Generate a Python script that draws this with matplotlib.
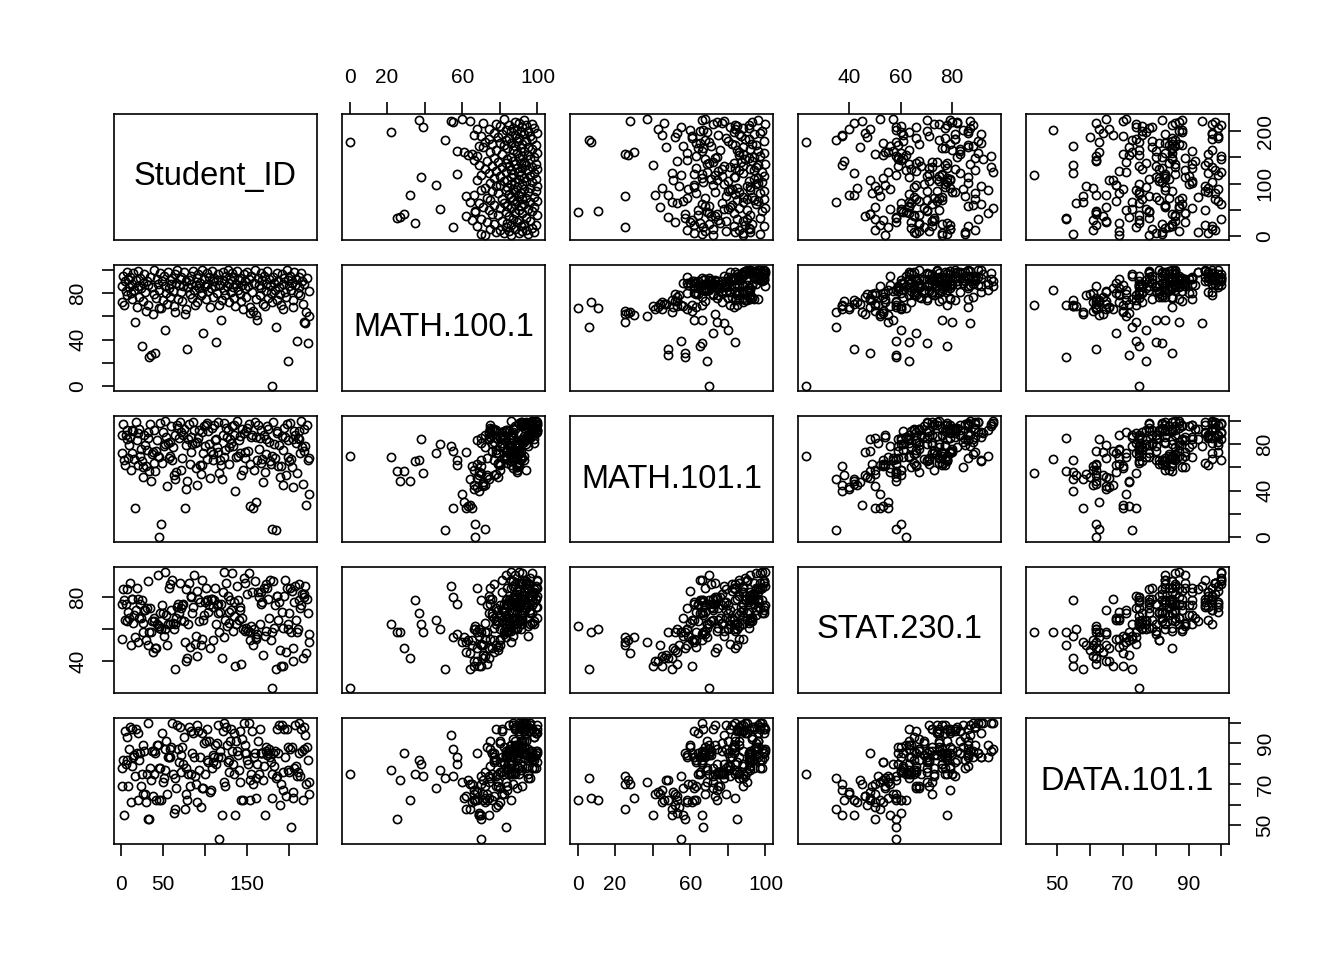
"""Scatterplot matrix of student scores (R pairs() look)."""
import matplotlib.pyplot as plt

student_id = [
    1, 2, 3, 4, 5, 6, 7, 8, 9, 10, 11, 12, 13, 14, 15, 16, 17, 18, 19, 20,
    21, 22, 23, 24, 25, 26, 27, 28, 29, 30, 31, 32, 33, 34, 35, 36, 37, 38, 39, 40,
    41, 42, 43, 44, 45, 46, 47, 48, 49, 50, 51, 52, 53, 54, 55, 56, 57, 58, 59, 60,
    61, 62, 63, 64, 65, 66, 67, 68, 69, 70, 71, 72, 73, 74, 75, 76, 77, 78, 79, 80,
    81, 82, 83, 84, 85, 86, 87, 88, 89, 90, 91, 92, 93, 94, 95, 96, 97, 98, 99, 100,
    101, 102, 103, 104, 105, 106, 107, 108, 109, 110, 111, 112, 113, 114, 115, 116,
    117, 118, 119, 120, 121, 122, 123, 124, 125, 126, 127, 128, 129, 130, 131, 132,
    133, 134, 135, 136, 137, 138, 139, 140, 141, 142, 143, 144, 145, 146, 147, 148,
    149, 150, 151, 152, 153, 154, 155, 156, 157, 158, 159, 160, 161, 162, 163, 164,
    165, 166, 167, 168, 169, 170, 171, 172, 173, 174, 175, 176, 177, 178, 179, 180,
    181, 182, 183, 184, 185, 186, 187, 188, 189, 190, 191, 192, 193, 194, 195, 196,
    197, 198, 199, 200, 201, 202, 203, 204, 205, 206, 207, 208, 209, 210, 211, 212,
    213, 214, 215, 216, 217, 218, 219, 220, 221, 222, 223, 224,
]
math_100 = [
    86, 72, 95, 70, 90, 82, 98, 78, 92, 85,
    94, 80, 88, 75, 97, 83, 55, 91, 68, 86,
    99, 77, 93, 84, 35, 89, 73, 96, 81, 65,
    90, 87, 70, 25, 94, 27, 85, 62, 100, 79,
    29, 76, 92, 88, 83, 67, 97, 67, 90, 74,
    95, 48, 86, 80, 71, 98, 84, 91, 77, 88,
    93, 82, 69, 96, 64, 89, 100, 75, 87, 92,
    81, 94, 73, 86, 98, 62, 90, 66, 32, 85,
    91, 79, 95, 88, 76, 99, 83, 70, 87, 93,
    72, 96, 84, 89, 78, 100, 80, 46, 92, 86,
    75, 97, 88, 82, 94, 68, 84, 99, 90, 77,
    93, 86, 38, 80, 96, 91, 70, 87, 57, 74,
    98, 83, 90, 78, 95, 86, 100, 72, 89, 92,
    81, 97, 85, 76, 94, 69, 88, 99, 83, 91,
    79, 93, 73, 87, 66, 96, 84, 90, 77, 98,
    86, 92, 68, 63, 95, 81, 65, 89, 100, 75,
    61, 57, 93, 87, 78, 97, 84, 91, 71, 95,
    69, 88, 82, 99, 76, 92, 86, 80, 0, 72,
    94, 89, 83, 51, 97, 74, 90, 85, 79, 70,
    96, 66, 88, 93, 81, 77, 100, 22, 91, 86,
    95, 83, 89, 74, 68, 98, 87, 92, 39, 80,
    94, 85, 78, 97, 90, 71, 88, 55, 54, 64,
    93, 37, 82, 60,
]
math_101 = [
    72, 88, 97, 66, 62, 88, 84, 92, 68, 79,
    86, 58, 72, 92, 91, 67, 25, 99, 83, 62,
    89, 93, 70, 76, 65, 60, 52, 88, 79, 61,
    75, 90, 85, 57, 97, 48, 71, 73, 92, 64,
    57, 74, 83, 70, 69, 0, 98, 11, 64, 90,
    78, 80, 100, 86, 44, 81, 68, 70, 82, 95,
    66, 77, 53, 88, 50, 56, 96, 94, 85, 99,
    90, 58, 68, 88, 93, 25, 79, 41, 48, 84,
    97, 63, 86, 73, 80, 99, 92, 81, 59, 82,
    45, 85, 92, 62, 54, 90, 62, 72, 95, 78,
    96, 98, 67, 91, 80, 51, 74, 94, 71, 66,
    96, 83, 84, 77, 99, 73, 55, 66, 62, 50,
    88, 69, 98, 75, 94, 86, 92, 77, 63, 84,
    81, 95, 78, 88, 96, 40, 69, 100, 70, 83,
    72, 87, 53, 93, 58, 89, 68, 73, 91, 94,
    74, 97, 63, 27, 86, 88, 25, 58, 99, 86,
    30, 66, 96, 76, 85, 92, 64, 67, 47, 88,
    56, 71, 84, 95, 93, 82, 65, 63, 70, 7,
    99, 80, 68, 6, 91, 89, 61, 79, 52, 61,
    87, 45, 75, 94, 86, 53, 97, 69, 83, 65,
    98, 67, 60, 84, 43, 91, 88, 81, 55, 85,
    84, 91, 72, 100, 77, 46, 93, 74, 78, 28,
    96, 66, 68, 37,
]
stat_230 = [
    76, 54, 85, 78, 66, 76, 85, 65, 71, 67,
    89, 50, 79, 79, 64, 69, 55, 72, 86, 52,
    79, 67, 76, 67, 78, 64, 58, 72, 72, 53,
    73, 90, 50, 58, 73, 58, 65, 46, 67, 65,
    48, 48, 63, 94, 61, 62, 70, 60, 75, 70,
    56, 60, 96, 69, 50, 63, 86, 63, 88, 72,
    91, 64, 60, 63, 35, 67, 74, 76, 70, 89,
    66, 73, 75, 76, 65, 52, 85, 40, 42, 63,
    89, 49, 81, 80, 70, 74, 94, 51, 56, 84,
    43, 79, 65, 77, 50, 91, 54, 66, 69, 77,
    86, 78, 78, 71, 75, 48, 79, 79, 74, 53,
    78, 86, 63, 75, 70, 76, 58, 71, 76, 42,
    83, 55, 96, 66, 89, 62, 81, 64, 71, 78,
    72, 95, 59, 68, 77, 37, 63, 87, 78, 66,
    72, 74, 38, 67, 60, 92, 59, 89, 61, 82,
    59, 95, 58, 53, 62, 83, 50, 60, 90, 54,
    55, 57, 83, 80, 63, 83, 76, 77, 44, 86,
    56, 88, 59, 86, 79, 67, 91, 53, 23, 58,
    90, 61, 75, 35, 81, 81, 66, 77, 47, 37,
    71, 37, 61, 81, 91, 46, 86, 63, 60, 70,
    86, 58, 84, 48, 40, 77, 87, 66, 58, 60,
    88, 78, 73, 75, 82, 42, 82, 80, 87, 45,
    79, 70, 57, 52,
]
data_101 = [
    78, 69, 82, 55, 96, 80, 93, 82, 69, 87,
    98, 61, 97, 79, 83, 84, 74, 97, 85, 62,
    95, 82, 85, 69, 75, 89, 65, 86, 65, 61,
    75, 100, 53, 53, 78, 72, 86, 64, 86, 75,
    85, 62, 89, 89, 78, 62, 78, 62, 95, 71,
    73, 77, 87, 91, 65, 83, 83, 87, 83, 88,
    100, 75, 56, 73, 58, 68, 99, 87, 81, 98,
    76, 84, 88, 80, 93, 58, 78, 65, 62, 75,
    98, 69, 96, 75, 85, 95, 83, 74, 70, 99,
    61, 96, 77, 83, 59, 95, 68, 68, 90, 75,
    91, 82, 97, 81, 91, 66, 67, 78, 84, 81,
    83, 89, 80, 90, 83, 99, 43, 86, 83, 55,
    96, 71, 100, 69, 98, 89, 81, 76, 82, 91,
    97, 86, 80, 75, 95, 55, 91, 86, 84, 77,
    71, 96, 62, 92, 62, 100, 85, 89, 85, 82,
    80, 100, 62, 72, 75, 96, 70, 83, 85, 73,
    63, 80, 91, 75, 97, 85, 85, 85, 72, 79,
    55, 86, 88, 84, 85, 87, 83, 81, 75, 63,
    85, 79, 86, 73, 97, 74, 85, 99, 60, 70,
    99, 67, 76, 97, 83, 64, 97, 77, 88, 76,
    87, 49, 88, 63, 66, 78, 99, 79, 74, 76,
    100, 85, 74, 97, 86, 62, 98, 87, 94, 70,
    88, 82, 65, 71,
]

names = ["Student_ID", "MATH.100.1", "MATH.101.1", "STAT.230.1", "DATA.101.1"]
columns = [student_id, math_100, math_101, stat_230, data_101]

# tick positions, labels on the x side (top/bottom) and y side (left/right)
ticks = [
    [0, 50, 100, 150, 200],
    [0, 20, 40, 60, 80, 100],
    [0, 20, 40, 60, 80, 100],
    [40, 60, 80],
    [50, 60, 70, 80, 90, 100],
]
x_labels = [
    ["0", "50", "", "150", ""],
    ["0", "20", "", "60", "", "100"],
    ["0", "20", "", "60", "", "100"],
    ["40", "60", "80"],
    ["50", "", "70", "", "90", ""],
]
y_labels = [
    ["0", "", "100", "", "200"],
    ["0", "", "40", "", "80", ""],
    ["0", "", "40", "", "80", ""],
    ["40", "", "80"],
    ["50", "", "70", "", "90", ""],
]

plt.rcParams["font.family"] = ["Liberation Sans", "DejaVu Sans"]

W, H = 1344, 960
col_left = [114, 342, 570, 798, 1026]
row_top = [114, 265, 416, 567, 718]
panel_w, panel_h = 203, 126


def padded_range(values, frac=0.04):
    """Axis range with R's default 4% expansion."""
    lo, hi = min(values), max(values)
    extra = (hi - lo) * frac
    return lo - extra, hi + extra


limits = [padded_range(v) for v in columns]
n = len(columns)

fig = plt.figure(figsize=(W / 100, H / 100), dpi=100)
for i in range(n):
    for j in range(n):
        ax = fig.add_axes([
            col_left[j] / W,
            1 - (row_top[i] + panel_h) / H,
            panel_w / W,
            panel_h / H,
        ])
        ax.set_xlim(limits[j])
        ax.set_ylim(limits[i])
        for spine in ax.spines.values():
            spine.set_linewidth(1.2)
        if i == j:
            ax.text(0.5, 0.5, names[i], transform=ax.transAxes,
                    ha="center", va="center", fontsize=23.5)
        else:
            ax.plot(columns[j], columns[i], "o", mfc="none", mec="black",
                    ms=5.9, mew=1.2, ls="none")

        top = i == 0 and j % 2 == 1
        bottom = i == n - 1 and j % 2 == 0
        left = j == 0 and i % 2 == 1
        right = j == n - 1 and i % 2 == 0

        if top or bottom:
            ax.set_xticks(ticks[j], x_labels[j])
        else:
            ax.set_xticks([])
        if left or right:
            ax.set_yticks(ticks[i], y_labels[i], rotation=90, va="center")
        else:
            ax.set_yticks([])
        ax.tick_params(axis="both", direction="out", length=8.6, width=1.2,
                       labelsize=15, pad=10.5,
                       top=top, labeltop=top, bottom=bottom, labelbottom=bottom,
                       left=left, labelleft=left, right=right, labelright=right)
        if bottom:
            ax.tick_params(axis="x", pad=14)

fig.savefig("out.png", dpi=100)
